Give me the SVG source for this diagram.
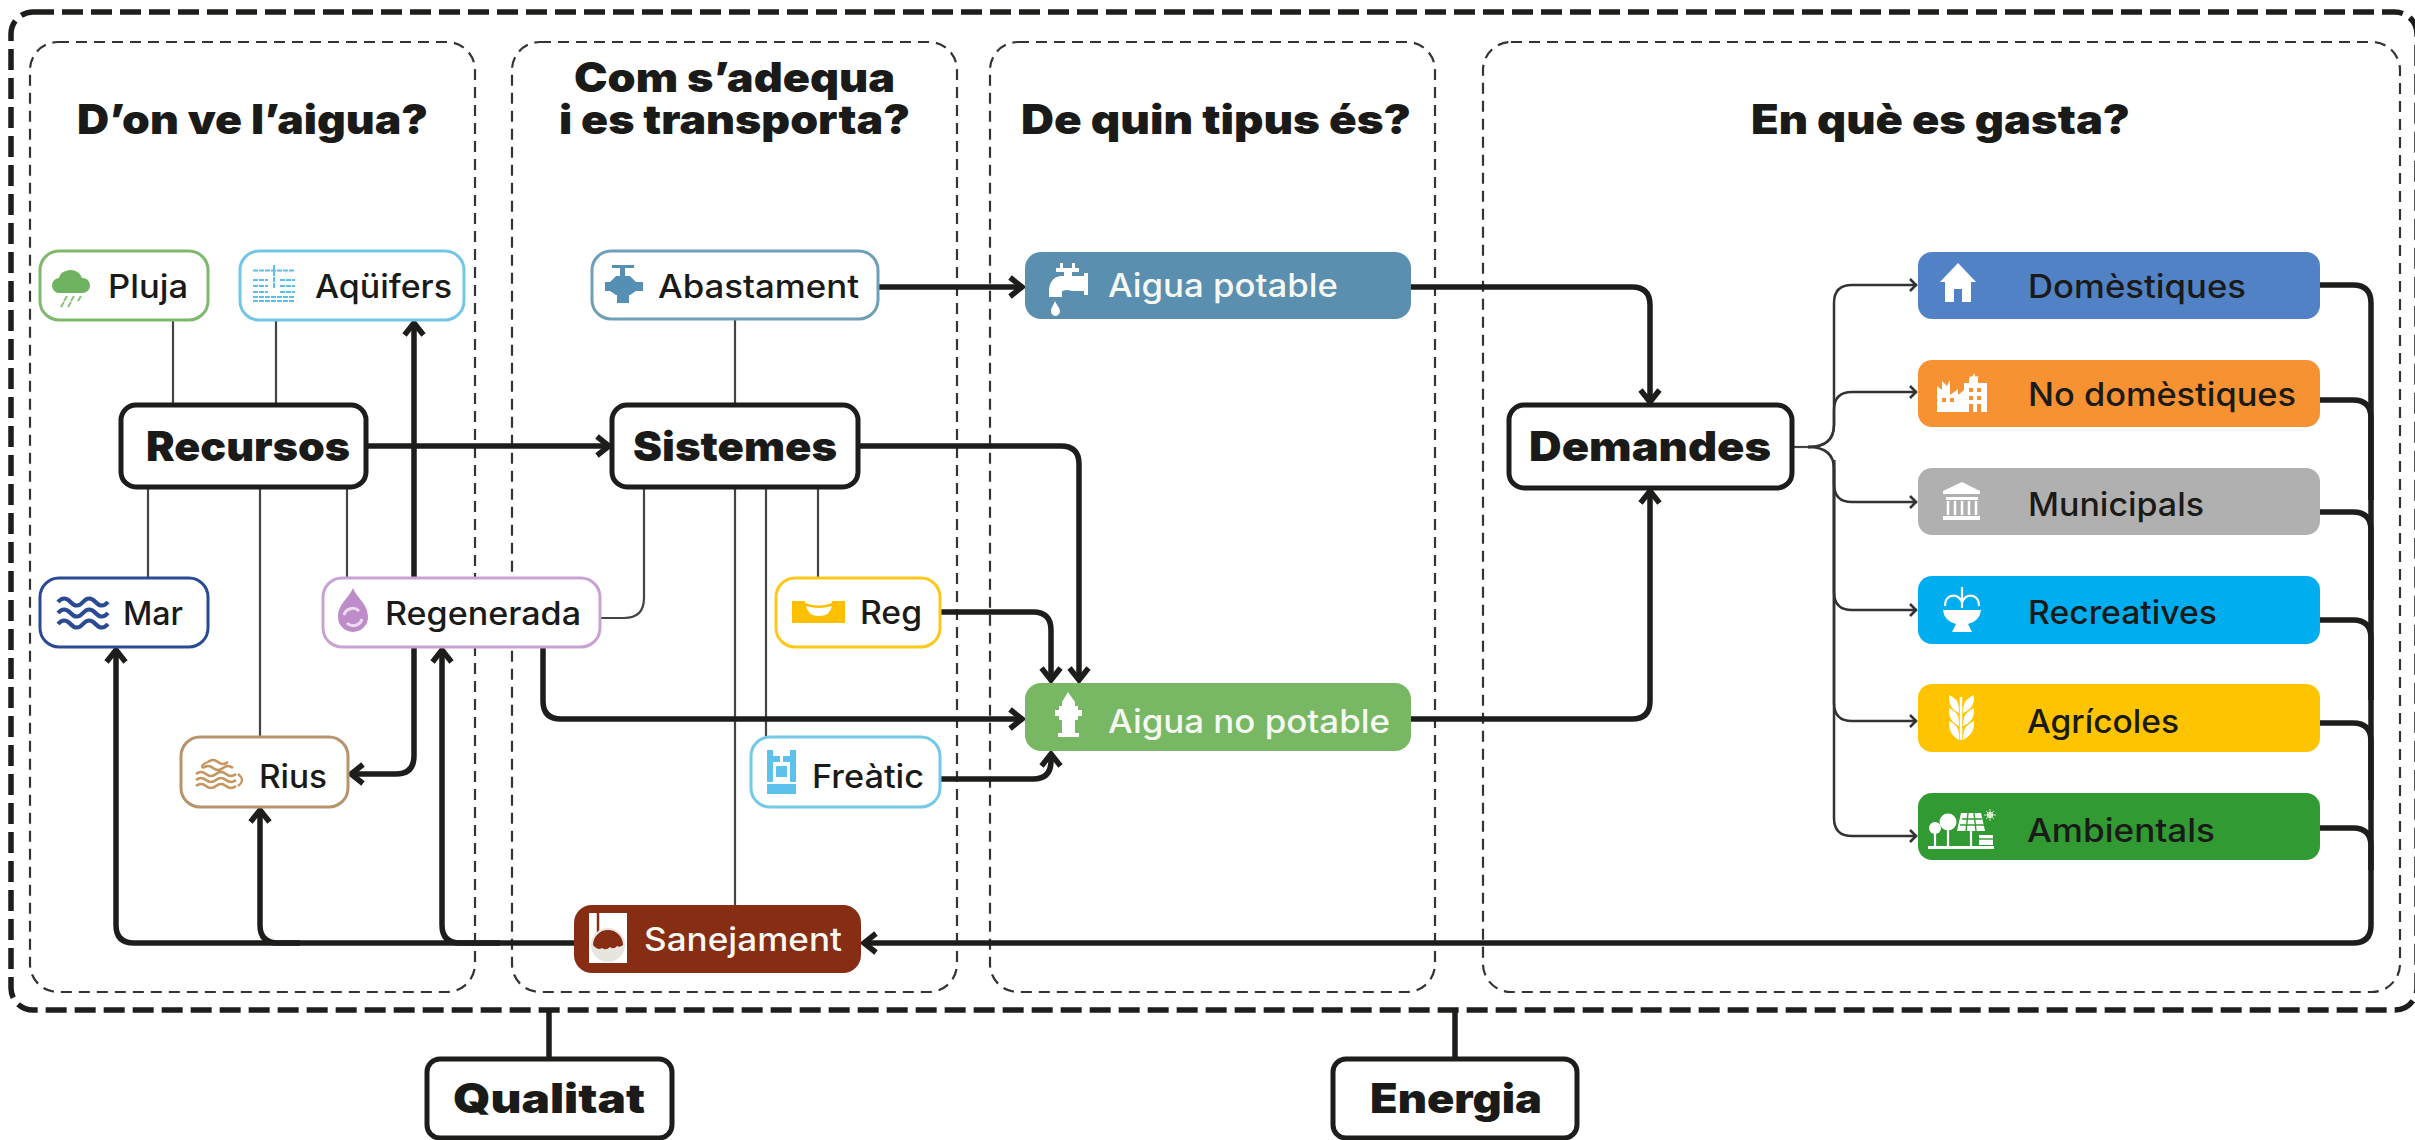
<svg xmlns="http://www.w3.org/2000/svg" width="2415" height="1140" viewBox="0 0 2415 1140">
<style>
text{font-family:"Inter","Liberation Sans",sans-serif;fill:#1a1a18}
.h{font-size:41px;font-weight:900}
.b{font-size:41px;font-weight:900}
.l{font-size:32px;font-weight:500}
.w{fill:#f6f8f2}
.col{fill:none;stroke:#333;stroke-width:2.2;stroke-dasharray:11 7}
.outer{fill:none;stroke:#1d1d1b;stroke-width:5.5;stroke-dasharray:21 8}
.thin{fill:none;stroke:#444;stroke-width:2.2}
.tn{fill:none;stroke:#333;stroke-width:2.5;marker-end:url(#as)}
.tk{fill:none;stroke:#1d1d1b;stroke-width:5.5}
.ta{marker-end:url(#al)}
.big{fill:#fff;stroke:#1d1d1b;stroke-width:5}
.n{fill:#fff;stroke-width:3}
.iw{fill:#fff}
.isw{fill:none;stroke:#fff}
</style>
<defs>
<marker id="al" markerUnits="userSpaceOnUse" markerWidth="30" markerHeight="30" refX="20" refY="15" orient="auto" overflow="visible"><path d="M7 5.5L19 15L7 24.5" fill="none" stroke="#1d1d1b" stroke-width="5.5"/></marker>
<marker id="as" markerUnits="userSpaceOnUse" markerWidth="20" markerHeight="20" refX="14" refY="10" orient="auto" overflow="visible"><path d="M7 4L13 10L7 16" fill="none" stroke="#333" stroke-width="2.6"/></marker>
</defs>
<rect width="2415" height="1140" fill="#fff"/>
<g id="frames">
<rect class="outer" x="11" y="12" width="2406" height="998" rx="22"/>
<rect class="col" x="30" y="42" width="445" height="950" rx="28"/>
<rect class="col" x="512" y="42" width="445" height="950" rx="28"/>
<rect class="col" x="990" y="42" width="445" height="950" rx="28"/>
<rect class="col" x="1483" y="42" width="917" height="950" rx="28"/>
</g>
<g id="headings">
<text class="h" x="77" y="134" textLength="351" lengthAdjust="spacingAndGlyphs">D’on ve l’aigua?</text>
<text class="h"><tspan x="574" y="92" textLength="321" lengthAdjust="spacingAndGlyphs">Com s’adequa</tspan><tspan x="559" y="134" textLength="351" lengthAdjust="spacingAndGlyphs">i es transporta?</tspan></text>
<text class="h" x="1021" y="134" textLength="390" lengthAdjust="spacingAndGlyphs">De quin tipus és?</text>
<text class="h" x="1751" y="134" textLength="379" lengthAdjust="spacingAndGlyphs">En què es gasta?</text>
</g>
<g id="connectors">
<path class="thin" d="M173 320V405M276 320V405M148 487V578M260 487V737M347 487V578M735 319V405M735 487V905M766 487V737M818 487V578M644 487V598Q644 618 624 618H600"/>
<path class="tk" d="M549 1010V1059M1455 1010V1059"/>
<path class="tk ta" d="M366 446H610"/>
<path class="tk ta" d="M878 287H1023"/>
<path class="tk ta" d="M858 446H1061Q1079 446 1079 464V681"/>
<path class="tk ta" d="M940 612H1033Q1051 612 1051 630V681"/>
<path class="tk ta" d="M543 647V701Q543 719 561 719H1023"/>
<path class="tk ta" d="M940 779H1033Q1051 779 1051 761V753"/>
<path class="tk ta" d="M1411 287H1632Q1650 287 1650 305V403"/>
<path class="tk ta" d="M1411 719H1632Q1650 719 1650 701V490"/>
<path class="tk ta" d="M414 578V322"/>
<path class="tk ta" d="M414 647V756Q414 774 396 774H350"/>
<path class="tk ta" d="M574 943H134Q116 943 116 925V649"/>
<path class="tk ta" d="M300 943H278Q260 943 260 925V809"/>
<path class="tk ta" d="M500 943H460Q442 943 442 925V649"/>
<path class="tk ta" d="M2320 285H2353Q2371 285 2371 303V925Q2371 943 2353 943H863"/>
<path class="tk" d="M2320 400H2353Q2371 400 2371 418V500M2320 512H2353Q2371 512 2371 530V600M2320 620H2353Q2371 620 2371 638V700M2320 723H2353Q2371 723 2371 741V800M2320 828H2353Q2371 828 2371 846V870"/>
<path class="thin" d="M1792 447H1810"/>
<path class="tn" d="M1808 447Q1834 447 1834 425V303Q1834 285 1852 285H1917"/>
<path class="tn" d="M1808 447Q1834 447 1834 425V410Q1834 392 1852 392H1917"/>
<path class="tn" d="M1808 447Q1834 447 1834 469V484Q1834 502 1852 502H1917"/>
<path class="tn" d="M1834 460V592Q1834 610 1852 610H1917"/>
<path class="tn" d="M1834 460V703Q1834 721 1852 721H1917"/>
<path class="tn" d="M1834 460V818Q1834 836 1852 836H1917"/>
</g>
<g id="pluja">
<rect class="n" x="40" y="251" width="168" height="69" rx="19" stroke="#7fb86c"/>
<path d="M60 293a7.500 7.500 0 0 1-1-15a9 9 0 0 1 7-7a12 12 0 0 1 16 7a7.500 7.500 0 0 1 1 15Z" fill="#6fb25f"/>
<path d="M67 296l-3 5M74 296l-3 5M81 296l-3 5M64 302l-3 5M71 302l-3 5" stroke="#8cc07c" stroke-width="2" fill="none"/>
<text class="l" x="108" y="298" textLength="80" lengthAdjust="spacingAndGlyphs">Pluja</text>
</g>
<g id="aquifers">
<rect class="n" x="240" y="251" width="224" height="69" rx="19" stroke="#74c6e6"/>
<path d="M253 270.500H295M253 280H268M280 280H295M253 286H268M280 286H295M253 292H268M280 292H295M274 265V288M253 297H295M253 301H295" stroke="#5bc0e8" stroke-width="2" fill="none" stroke-dasharray="5 1"/>
<text class="l" x="315" y="298" textLength="137" lengthAdjust="spacingAndGlyphs">Aqüifers</text>
</g>
<g id="recursos">
<rect class="big" x="121" y="405" width="245" height="82" rx="15"/>
<text class="b" x="146" y="461" textLength="204" lengthAdjust="spacingAndGlyphs">Recursos</text>
</g>
<g id="mar">
<rect class="n" x="40" y="578" width="168" height="69" rx="19" stroke="#2b4a94"/>
<path d="M58 602q6-7 12.500 0t12.500 0t12.500 0t12.500 0M58 613q6-7 12.500 0t12.500 0t12.500 0t12.500 0M58 624q6-7 12.500 0t12.500 0t12.500 0t12.500 0" stroke="#2b4a94" stroke-width="4.200" fill="none"/>
<text class="l" x="123" y="625" textLength="60" lengthAdjust="spacingAndGlyphs">Mar</text>
</g>
<g id="regenerada">
<rect class="n" x="323" y="578" width="277" height="69" rx="19" stroke="#c9a2d4"/>
<path d="M353 588C357 598 368 604 368 617A15 15 0 0 1 338 617C338 604 349 598 353 588Z" fill="#bd8cc9"/>
<path d="M344 615a9 9 0 0 1 15-4M362 619a9 9 0 0 1-15 4" stroke="#ecdcef" stroke-width="3" fill="none"/>
<text class="l" x="385" y="625" textLength="196" lengthAdjust="spacingAndGlyphs">Regenerada</text>
</g>
<g id="rius">
<rect class="n" x="181" y="737" width="167" height="70" rx="19" stroke="#b8946c"/>
<path d="M208 762q5-4 10 0t10 0M203 768q5-4 10 0t10 0t10 0M196 774q5-4 10 0t10 0t10 0t10 0M196 780q5-4 10 0t10 0t10 0t10 0M196 786q5-4 10 0t10 0t10 0t10 0" stroke="#c4955e" stroke-width="2.600" fill="none"/>
<path d="M208 762Q200 765 203 768M238 774Q246 780 238 786" stroke="#c4955e" stroke-width="2.200" fill="none"/>
<text class="l" x="259" y="788" textLength="68" lengthAdjust="spacingAndGlyphs">Rius</text>
</g>
<g id="abastament">
<rect class="n" x="592" y="251" width="286" height="68" rx="19" stroke="#6f9fb8"/>
<path d="M612 265H634V268H625V276H630L636 282H643V291H636L630 295H629V303H617V295H616L610 291H605V282H610L616 276H620V268H612Z" fill="#5590b4"/>
<text class="l" x="658" y="298" textLength="201" lengthAdjust="spacingAndGlyphs">Abastament</text>
</g>
<g id="sistemes">
<rect class="big" x="612" y="405" width="246" height="82" rx="15"/>
<text class="b" x="633" y="461" textLength="204" lengthAdjust="spacingAndGlyphs">Sistemes</text>
</g>
<g id="reg">
<rect class="n" x="776" y="578" width="164" height="69" rx="19" stroke="#fcc91a"/>
<path d="M792 601H805V603Q819 608 832 603V601H845V623H792Z" fill="#fcc000"/>
<path d="M806 606Q819 610 832 606Q830 616 819 616Q808 616 806 606Z" fill="#fff"/>
<text class="l" x="860" y="624" textLength="62" lengthAdjust="spacingAndGlyphs">Reg</text>
</g>
<g id="freatic">
<rect class="n" x="751" y="737" width="189" height="70" rx="19" stroke="#74c8e8"/>
<path d="M767 750H773V756H780V762H773V782H767ZM796 750H790V756H783V762H790V782H796ZM767 784H796V794H767Z" fill="#5cc2ec"/>
<rect x="776" y="766" width="11" height="11" fill="#5cc2ec"/>
<text class="l" x="812" y="788" textLength="112" lengthAdjust="spacingAndGlyphs">Freàtic</text>
</g>
<g id="sanejament">
<rect x="574" y="905" width="287" height="68" rx="18" fill="#862d14"/>
<rect x="589" y="913" width="38" height="50" class="iw"/>
<path d="M598 913V938" stroke="#862d14" stroke-width="2.500" fill="none"/>
<circle cx="608" cy="945" r="17" fill="#e8e4e0"/>
<path d="M593 945a15 15 0 0 1 30 0q-3 3-6 1q-3 4-7 1q-4 4-8 1q-4 3-9-3Z" fill="#862d14"/>
<text class="l w" x="644" y="951" textLength="198" lengthAdjust="spacingAndGlyphs">Sanejament</text>
</g>
<g id="aigua-potable">
<rect x="1025" y="252" width="386" height="67" rx="16" fill="#5a8fb0"/>
<path d="M1060 263H1063V268H1072V263H1075V268H1079V272H1072V276H1084V273H1088V295H1084V291H1072Q1066 289 1063 291H1062V297H1049V289Q1050 278 1060 276H1064V272H1056V268H1060Z" class="iw"/>
<path d="M1055 301C1057 306 1060 308 1060 311A4.500 5 0 0 1 1051 311C1051 308 1053 306 1055 301Z" class="iw"/>
<text class="l w" x="1108" y="297" textLength="230" lengthAdjust="spacingAndGlyphs">Aigua potable</text>
</g>
<g id="aigua-no-potable">
<rect x="1025" y="683" width="386" height="68" rx="16" fill="#78b864"/>
<path d="M1068 692L1075 702V706H1078V710H1082V716H1078V720H1075V733H1079V737H1058V733H1062V720H1059V716H1055V710H1059V706H1062V702Z" class="iw"/>
<text class="l w" x="1108" y="733" textLength="282" lengthAdjust="spacingAndGlyphs">Aigua no potable</text>
</g>
<g id="demandes">
<rect class="big" x="1509" y="405" width="283" height="83" rx="15"/>
<text class="b" x="1529" y="461" textLength="242" lengthAdjust="spacingAndGlyphs">Demandes</text>
</g>
<g id="domestiques">
<rect x="1918" y="252" width="402" height="67" rx="14" fill="#5182c6"/>
<path d="M1958 263L1976 282H1971V302H1962V289H1954V302H1945V282H1940Z" class="iw"/>
<text class="l" x="2028" y="298" textLength="218" lengthAdjust="spacingAndGlyphs">Domèstiques</text>
</g>
<g id="no-domestiques">
<rect x="1918" y="360" width="402" height="67" rx="14" fill="#f79232"/>
<path d="M1937 412V386L1942 390V381L1947 386L1950 380V395L1958 389V395L1964 390V383H1969V378H1978V383H1987V412Z" class="iw"/>
<path d="M1974 373l1.500 3.500h3.500l-3 2.500l1 3.500l-3-2l-3 2l1-3.500l-3-2.500h3.500Z" class="iw"/>
<path d="M1942 398h4v4h-4zM1950 398h4v4h-4zM1969 388h4v4h-4zM1977 388h4v4h-4zM1969 396h4v4h-4zM1977 396h4v4h-4zM1969 404h4v8h-4zM1977 404h4v8h-4z" fill="#f79232"/>
<text class="l" x="2028" y="406" textLength="268" lengthAdjust="spacingAndGlyphs">No domèstiques</text>
</g>
<g id="municipals">
<rect x="1918" y="468" width="402" height="67" rx="14" fill="#b0b0b0"/>
<path d="M1962 482L1980 491V494H1943V491ZM1946 497H1978V500H1946ZM1943 516H1980V520H1943Z" class="iw"/>
<path d="M1948 501V515M1955 501V515M1962 501V515M1969 501V515M1976 501V515" stroke="#fff" stroke-width="2.500" fill="none"/>
<text class="l" x="2028" y="516" textLength="176" lengthAdjust="spacingAndGlyphs">Municipals</text>
</g>
<g id="recreatives">
<rect x="1918" y="576" width="402" height="68" rx="14" fill="#00aeef"/>
<path d="M1962 587V608M1962 602Q1958 594 1951 596Q1945 598 1945 606M1962 602Q1966 594 1973 596Q1979 598 1979 606" class="isw" stroke-width="2.200"/>
<path d="M1943 610H1981Q1980 621 1968 624L1972 632H1952L1956 624Q1944 621 1943 610Z" class="iw"/>
<text class="l" x="2028" y="624" textLength="189" lengthAdjust="spacingAndGlyphs">Recreatives</text>
</g>
<g id="agricoles">
<rect x="1918" y="684" width="402" height="68" rx="14" fill="#ffc400"/>
<path d="M1961 697V740" class="isw" stroke-width="2.500"/>
<path d="M1949 695Q1959 699 1959 709V713Q1950 709 1949 700ZM1974 695Q1964 699 1963 709V713Q1973 709 1974 700ZM1949 708Q1959 712 1959 722V726Q1950 722 1949 713ZM1974 708Q1964 712 1963 722V726Q1973 722 1974 713ZM1949 721Q1959 725 1959 735V740Q1950 735 1949 726ZM1974 721Q1964 725 1963 735V740Q1973 735 1974 726Z" class="iw"/>
<text class="l" x="2027" y="733" textLength="152" lengthAdjust="spacingAndGlyphs">Agrícoles</text>
</g>
<g id="ambientals">
<rect x="1918" y="793" width="402" height="67" rx="14" fill="#329a33"/>
<path d="M1928 846H1994V849H1928Z" class="iw"/>
<circle cx="1935" cy="828" r="6" class="iw"/><circle cx="1948" cy="822" r="8.500" class="iw"/>
<path d="M1935 832V846M1948 828V846M1971 830V846" class="isw" stroke-width="2.200"/>
<path d="M1961 813H1981L1985 831H1957Z" class="iw"/>
<path d="M1962 819H1982M1960 825H1984M1968 813L1966 831M1974 813L1976 831" stroke="#329a33" stroke-width="1.400" fill="none"/>
<path d="M1979 835H1993V845H1979Z" class="iw"/>
<path d="M1979 839H1993" stroke="#329a33" stroke-width="1.400"/>
<circle cx="1990" cy="815" r="3" class="iw"/>
<path d="M1990 809V821M1984 815H1996M1986 811L1994 819M1994 811L1986 819" stroke="#cfe8c4" stroke-width="1"/>
<text class="l" x="2027" y="842" textLength="188" lengthAdjust="spacingAndGlyphs">Ambientals</text>
</g>
<g id="qualitat">
<rect class="big" x="427" y="1059" width="245" height="79" rx="13"/>
<text class="b" x="453" y="1113" textLength="192" lengthAdjust="spacingAndGlyphs">Qualitat</text>
</g>
<g id="energia">
<rect class="big" x="1333" y="1059" width="244" height="79" rx="13"/>
<text class="b" x="1370" y="1113" textLength="172" lengthAdjust="spacingAndGlyphs">Energia</text>
</g>
</svg>
